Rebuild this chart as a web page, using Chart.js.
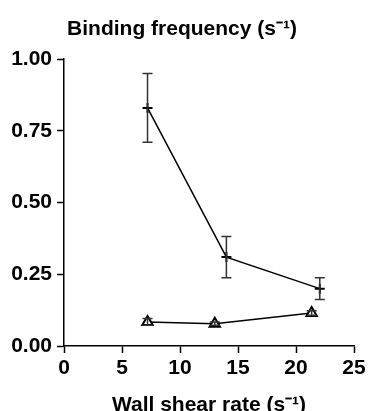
<!DOCTYPE html>
<html>
<head>
<meta charset="utf-8">
<script src="https://cdn.jsdelivr.net/npm/chart.js@4"></script>
<style>
  html, body { margin: 0; padding: 0; background: #fff; }
  #wrap { width: 369px; height: 411px; }
</style>
</head>
<body>
<div id="wrap"><canvas id="bindingChart" width="369" height="411"></canvas></div>
<script>
const shearRateA = [7.2, 14.0, 22.05];
const frequencyA = [0.83, 0.31, 0.20];
const errorA = [0.12, 0.072, 0.038];

const shearRateB = [7.2, 13.0, 21.35];
const frequencyB = [0.084, 0.078, 0.115];
const errorB = [0.012, 0.006, 0.008];

const xTicks = [0, 5, 10, 15, 20, 25];
const yTicks = [0, 0.25, 0.5, 0.75, 1.0];

const toPoints = (xs, ys) => xs.map((x, i) => ({x: x, y: ys[i]}));

const errorBars = {
  id: 'errorBars',
  afterDatasetsDraw(chart) {
    const ctx = chart.ctx;
    const xs = chart.scales.x, ys = chart.scales.y;
    chart.data.datasets.forEach(ds => {
      if (!ds.errors) return;
      ctx.save();
      ctx.strokeStyle = '#333';
      ctx.lineWidth = 1.5;
      ds.data.forEach((p, i) => {
        const e = ds.errors[i];
        const px = xs.getPixelForValue(p.x);
        const top = ys.getPixelForValue(p.y + e);
        const bot = ys.getPixelForValue(p.y - e);
        ctx.beginPath();
        ctx.moveTo(px, top); ctx.lineTo(px, bot);
        ctx.moveTo(px - 5, top); ctx.lineTo(px + 5, top);
        ctx.moveTo(px - 5, bot); ctx.lineTo(px + 5, bot);
        ctx.stroke();
      });
      ctx.restore();
    });
  }
};

const font = {family: "'Liberation Sans', Arial, sans-serif", weight: 'bold', size: 21};

new Chart(document.getElementById('bindingChart'), {
  type: 'scatter',
  data: {
    datasets: [{
      label: 'A',
      data: toPoints(shearRateA, frequencyA),
      errors: errorA,
      showLine: true,
      borderColor: '#000',
      borderWidth: 1.5,
      pointStyle: 'cross',
      pointRadius: 5,
      pointBorderWidth: 2,
      pointBorderColor: '#000'
    }, {
      label: 'B',
      data: toPoints(shearRateB, frequencyB),
      errors: errorB,
      showLine: true,
      borderColor: '#000',
      borderWidth: 1.5,
      pointStyle: 'triangle',
      pointRadius: 6,
      pointBorderWidth: 2,
      pointBorderColor: '#000',
      pointBackgroundColor: '#fff'
    }]
  },
  options: {
    responsive: false,
    animation: false,
    layout: {padding: {left: 0, right: 5, top: 0, bottom: 0}},
    plugins: {
      legend: {display: false},
      tooltip: {enabled: false},
      title: {
        display: true,
        text: 'Binding frequency (s\u207B\u00B9)',
        color: '#000',
        font: font,
        padding: {top: 17, bottom: 17}
      }
    },
    scales: {
      x: {
        type: 'linear',
        min: 0, max: 25,
        afterBuildTicks: s => { s.ticks = xTicks.map(v => ({value: v})); },
        afterFit: s => { s.height = 65; s.paddingRight = 15; },
        grid: {drawOnChartArea: false, color: '#000', tickLength: 7, tickWidth: 1.5},
        border: {color: '#000', width: 1.5},
        ticks: {color: '#000', font: font, padding: 3},
        title: {display: true, text: 'Wall shear rate (s\u207B\u00B9)', color: '#000', font: font, padding: {top: 0, bottom: -7}}
      },
      y: {
        min: 0, max: 1,
        afterBuildTicks: s => { s.ticks = yTicks.map(v => ({value: v})); },
        afterFit: s => { s.width = 64; },
        grid: {drawOnChartArea: false, color: '#000', tickLength: 7, tickWidth: 1.5},
        border: {color: '#000', width: 1.5},
        ticks: {color: '#000', font: font, padding: 5, callback: v => v.toFixed(2)}
      }
    }
  },
  plugins: [errorBars]
});
</script>
</body>
</html>
